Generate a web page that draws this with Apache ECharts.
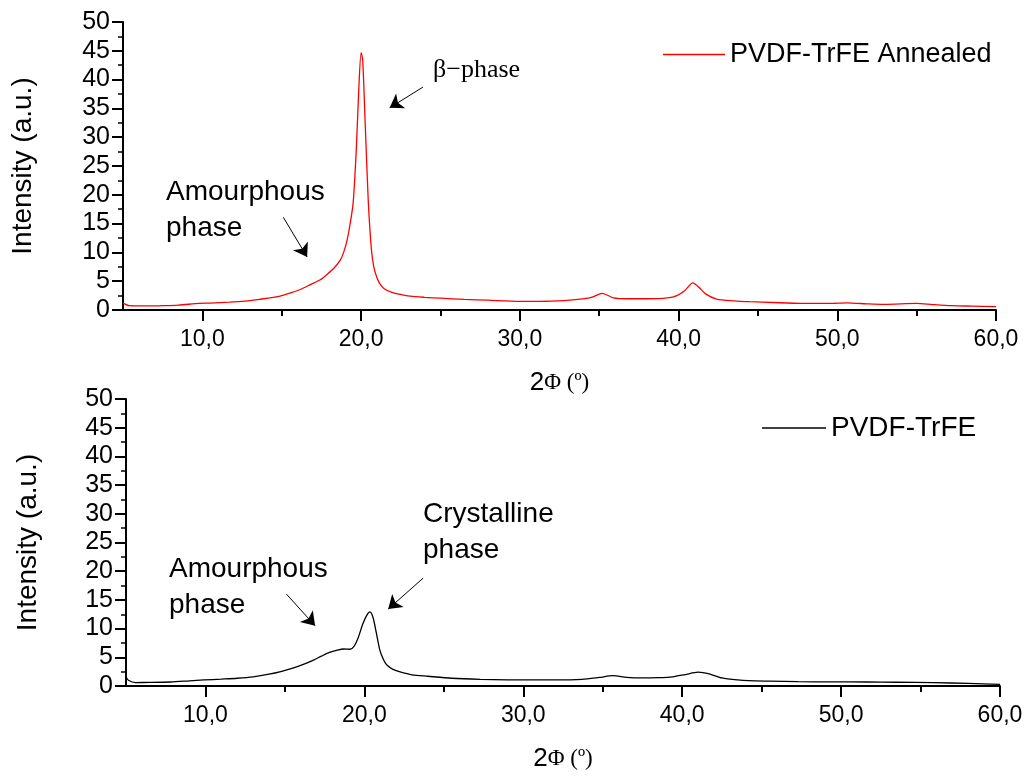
<!DOCTYPE html>
<html>
<head>
<meta charset="utf-8">
<title>PVDF-TrFE XRD</title>
<script src="https://cdn.jsdelivr.net/npm/echarts@6/dist/echarts.min.js"></script>
<style>
  html, body { margin: 0; padding: 0; background: #fff; }
  #chart { width: 1026px; height: 781px; }
</style>
</head>
<body>
<div id="chart"></div>
<script>
// annealed film (top panel)
const annealedX = [5.0, 5.4, 6.5, 7.5, 8.5, 9.8, 10.5, 11.7, 12.7, 13.6, 14.9, 15.6, 16.2, 16.8, 17.4, 17.9, 18.3, 18.7, 18.9, 19.1, 19.3, 19.5, 19.7, 19.85, 20.0, 20.1, 20.25, 20.45, 20.65, 20.8, 21.0, 21.2, 21.5, 21.9, 22.3, 23.1, 24.0, 25.0, 26.5, 28.0, 30.0, 32.0, 33.5, 34.5, 35.2, 35.9, 36.8, 38.0, 39.3, 39.9, 40.4, 40.9, 41.3, 41.7, 42.4, 43.5, 44.5, 46.0, 47.7, 49.5, 50.6, 52.0, 53.0, 55.0, 56.0, 57.2, 58.5, 60.0];
const annealedY = [1.2, 0.75, 0.7, 0.75, 0.85, 1.15, 1.2, 1.35, 1.55, 1.85, 2.4, 3.0, 3.6, 4.4, 5.2, 6.3, 7.3, 8.7, 10.0, 11.9, 14.8, 18.6, 28.0, 38.0, 44.7, 43.5, 33.0, 19.0, 10.5, 7.5, 5.6, 4.5, 3.6, 3.1, 2.8, 2.4, 2.2, 2.05, 1.85, 1.7, 1.5, 1.55, 1.8, 2.2, 2.9, 2.1, 1.95, 1.95, 2.1, 2.5, 3.4, 4.7, 3.9, 2.8, 1.9, 1.6, 1.45, 1.3, 1.15, 1.15, 1.25, 1.05, 0.98, 1.15, 0.95, 0.75, 0.68, 0.6];

// as-deposited film (bottom panel)
const pristineX = [5.0, 5.15, 5.6, 6.5, 7.8, 9.0, 9.9, 11.0, 12.0, 13.0, 14.0, 14.8, 15.5, 16.2, 16.8, 17.3, 17.8, 18.3, 18.7, 19.1, 19.35, 19.6, 19.9, 20.15, 20.35, 20.55, 20.75, 20.97, 21.2, 21.4, 21.8, 22.2, 23.0, 24.0, 25.5, 27.3, 29.0, 30.5, 32.0, 33.7, 34.8, 35.65, 36.5, 37.5, 38.5, 39.4, 40.2, 41.0, 41.7, 42.5, 43.5, 44.2, 45.5, 47.3, 49.5, 51.6, 53.5, 55.8, 58.0, 60.0];
const pristineY = [1.6, 1.0, 0.6, 0.62, 0.7, 0.9, 1.05, 1.2, 1.35, 1.6, 2.05, 2.55, 3.1, 3.8, 4.5, 5.2, 5.85, 6.25, 6.45, 6.4, 6.9, 8.3, 10.8, 12.3, 12.9, 11.9, 9.3, 6.3, 4.6, 3.7, 2.9, 2.5, 1.95, 1.7, 1.35, 1.16, 1.08, 1.05, 1.05, 1.16, 1.5, 1.8, 1.5, 1.4, 1.45, 1.6, 2.0, 2.4, 2.1, 1.4, 1.05, 0.93, 0.85, 0.75, 0.72, 0.7, 0.65, 0.58, 0.45, 0.3];

const xMajorTicks = [10, 20, 30, 40, 50, 60];
const xMinorTicks = [15, 25, 35, 45, 55];

// annotation arrows, in data coordinates [from, to]
const topArrows = [[[23.9, 38.7], [21.8, 35.1]], [[15.1, 16.1], [16.6, 9.2]]];
const bottomArrows = [[[15.1, 16.0], [16.9, 10.5]], [[23.7, 18.8], [21.5, 13.4]]];

const SANS = "'Liberation Sans', Arial, sans-serif";
const SERIF = "'Liberation Serif', 'Times New Roman', serif";

function zip(xs, ys) {
  return xs.map((x, i) => [x, ys[i]]);
}

function arrowLines(list) {
  return {
    silent: true,
    symbol: ['none', 'arrow'],
    symbolSize: 13,
    label: { show: false },
    lineStyle: { color: '#000', width: 1, type: 'solid' },
    itemStyle: { color: '#000' },
    data: list.map(a => [{ coord: a[0] }, { coord: a[1] }])
  };
}

function majorX(gridIndex) {
  return {
    type: 'value', gridIndex: gridIndex, position: 'bottom', min: 5, max: 60,
    name: '{a|2}{b|Φ (º)}', nameLocation: 'middle', nameGap: 60,
    nameTextStyle: {
      rich: {
        a: { fontFamily: SANS, fontSize: 26, color: '#000' },
        b: { fontFamily: SERIF, fontSize: 23, color: '#000' }
      }
    },
    axisLine: { lineStyle: { color: '#000', width: 2 } },
    axisTick: { customValues: xMajorTicks, length: 11, lineStyle: { color: '#000', width: 2 } },
    axisLabel: {
      customValues: xMajorTicks, margin: 18, color: '#000', fontFamily: SANS, fontSize: 23,
      formatter: v => v.toFixed(1).replace('.', ',')
    },
    splitLine: { show: false }
  };
}

function minorX(gridIndex) {
  return {
    type: 'value', gridIndex: gridIndex, position: 'bottom', min: 5, max: 60,
    axisLine: { show: false },
    axisTick: { customValues: xMinorTicks, length: 6, lineStyle: { color: '#000', width: 2 } },
    axisLabel: { show: false },
    splitLine: { show: false }
  };
}

function yAxisFor(gridIndex, gap) {
  return {
    type: 'value', gridIndex: gridIndex, min: 0, max: 50, interval: 5,
    name: 'Intensity (a.u.)', nameLocation: 'middle', nameGap: gap,
    nameTextStyle: { fontFamily: SANS, fontSize: 28, color: '#000' },
    axisLine: { show: true, lineStyle: { color: '#000', width: 2 } },
    axisTick: { show: true, length: 11, lineStyle: { color: '#000', width: 2 } },
    minorTick: { show: true, splitNumber: 2, length: 5, lineStyle: { color: '#000', width: 1.5 } },
    axisLabel: { margin: 13, color: '#000', fontFamily: SANS, fontSize: 25 },
    splitLine: { show: false }
  };
}

const textStyle = { fontFamily: SANS, fontSize: 28, fill: '#000', lineHeight: 36 };

const chart = echarts.init(document.getElementById('chart'));
chart.setOption({
  animation: false,
  backgroundColor: '#fff',
  grid: [
    { left: 123, top: 22, width: 873, height: 288 },
    { left: 126, top: 399, width: 874, height: 287 }
  ],
  legend: [
    {
      data: ['PVDF-TrFE Annealed'], left: 658, top: 36, icon: 'rect', itemWidth: 62, itemHeight: 1.5,
      textStyle: { fontFamily: SANS, fontSize: 27, color: '#000' }
    },
    {
      data: ['PVDF-TrFE'], left: 757, top: 409, icon: 'rect', itemWidth: 64, itemHeight: 1.5,
      textStyle: { fontFamily: SANS, fontSize: 28, color: '#000' }
    }
  ],
  xAxis: [majorX(0), minorX(0), majorX(1), minorX(1)],
  yAxis: [yAxisFor(0, 86), yAxisFor(1, 84)],
  series: [
    {
      name: 'PVDF-TrFE Annealed', type: 'line', xAxisIndex: 0, yAxisIndex: 0,
      data: zip(annealedX, annealedY), showSymbol: false, symbol: 'none', smooth: 0.25,
      lineStyle: { color: '#ff0000', width: 1.3 }, itemStyle: { color: '#ff0000' },
      markLine: arrowLines(topArrows)
    },
    {
      name: 'PVDF-TrFE', type: 'line', xAxisIndex: 2, yAxisIndex: 1,
      data: zip(pristineX, pristineY), showSymbol: false, symbol: 'none', smooth: 0.25,
      lineStyle: { color: '#000', width: 1.3 }, itemStyle: { color: '#000' },
      markLine: arrowLines(bottomArrows)
    }
  ],
  graphic: [
    { type: 'text', left: 166, top: 174, style: Object.assign({ text: 'Amourphous\nphase' }, textStyle) },
    { type: 'text', left: 433, top: 57, style: { text: 'β−phase', fontFamily: SERIF, fontSize: 26, fill: '#000' } },
    { type: 'text', left: 169, top: 551, style: Object.assign({ text: 'Amourphous\nphase' }, textStyle) },
    { type: 'text', left: 423, top: 496, style: Object.assign({ text: 'Crystalline\nphase' }, textStyle) }
  ]
});

window.addEventListener('resize', function () {
  chart.resize();
});
</script>
</body>
</html>
